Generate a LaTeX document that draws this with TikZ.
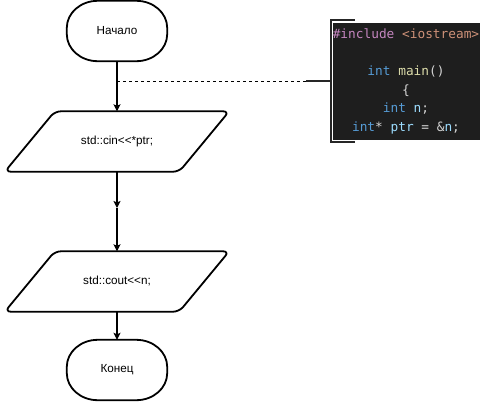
\documentclass[tikz,border=0pt]{standalone}
\usepackage{fontspec}
\setmainfont{Liberation Sans}
\newfontfamily\codefont{DejaVu Sans Mono}
\usetikzlibrary{arrows.meta,calc}
\definecolor{codebg}{HTML}{1E1E1E}
\definecolor{cpink}{HTML}{C586C0}
\definecolor{corange}{HTML}{CE9178}
\definecolor{cblue}{HTML}{569CD6}
\definecolor{cyellow}{HTML}{DCDCAA}
\definecolor{clight}{HTML}{9CDCFE}
\definecolor{cplain}{HTML}{D4D4D4}
\newcommand\termshape[1]{%
  \draw[outl] ($(#1.north west)+(31,0)$) -- ($(#1.north east)-(31,0)$)
    arc[start angle=90,end angle=0,x radius=31,y radius=27]
    -- ($(#1.south east)+(0,27)$)
    arc[start angle=0,end angle=-90,x radius=31,y radius=27]
    -- ($(#1.south west)+(31,0)$)
    arc[start angle=270,end angle=180,x radius=31,y radius=27]
    -- ($(#1.north west)-(0,27)$)
    arc[start angle=180,end angle=90,x radius=31,y radius=27] -- cycle;}
\newcommand\parashape[1]{%
  \draw[outl,rounded corners=6pt] (#1.south west) -- ($(#1.north west)+(50,0)$)
    -- (#1.north east) -- ($(#1.south east)-(50,0)$) -- cycle;}
\begin{document}
\begin{tikzpicture}[x=1pt,y=1pt,
  outl/.style={draw=black,line width=1.8pt,line join=round},
  termbox/.style={minimum width=100pt,minimum height=60pt,inner sep=0pt,
    font=\fontsize{11.7}{13}\selectfont},
  parabox/.style={minimum width=224pt,minimum height=60pt,inner sep=0pt,
    font=\fontsize{11.7}{13}\selectfont},
  arr/.style={line width=1.2pt,-{Stealth[length=7pt,width=7pt,inset=1.5pt]}},
  dashline/.style={line width=0.9pt,dash pattern=on 3pt off 3pt},
  bracketline/.style={line width=1.8pt,draw=black!85}]
\useasboundingbox (0,0) rectangle (480,-402);
% nodes
\node[termbox] (start) at (117,-31) {\raisebox{-1.5pt}{Начало}};
\node[parabox] (in) at (117,-141.5) {std::cin<{}<*ptr;};
\node[parabox] (out) at (117,-281.5) {std::cout<{}<n;};
\node[termbox] (stop) at (117,-370) {\raisebox{-2pt}{Конец}};
\termshape{start}
\parashape{in}
\parashape{out}
\termshape{stop}
% code box
\fill[codebg] (333,-23) rectangle (480,-140);
\node[align=center,inner sep=0pt,font=\codefont\fontsize{12.8}{18.6}\selectfont] (code) at (406,-81.5)
  {\textcolor{cpink}{\#include} \textcolor{corange}{<iostream>}\\
   \mbox{}\\
   \textcolor{cblue}{int} \textcolor{cyellow}{main}\textcolor{cplain}{()}\\
   \textcolor{cplain}{\{}\\
   \textcolor{cblue}{int} \textcolor{clight}{n}\textcolor{cplain}{;}\\
   \textcolor{cblue}{int}\textcolor{cplain}{*} \textcolor{clight}{ptr} \textcolor{cplain}{= \&}\textcolor{clight}{n}\textcolor{cplain}{;}};
% bracket annotation
\coordinate (bt) at (355,-20);
\coordinate (bb) at (355,-142);
\coordinate (bm) at (331,-81);
\coordinate (dj) at (306,-81);
\coordinate (d0) at (117,-81);
\draw[bracketline] (bt) -- (bt -| bm) -- (bb -| bm) -- (bb);
\draw[bracketline,line width=1.6pt] (dj) -- (bm);
\draw[dashline] (d0) -- (dj);
% connectors
\coordinate (mid) at (117,-208);
\draw[arr] (start.south) -- (in.north);
\draw[arr] (in.south) -- (mid);
\draw[arr] (mid) -- (out.north);
\draw[arr] (out.south) -- (stop.north);
\end{tikzpicture}
\end{document}
